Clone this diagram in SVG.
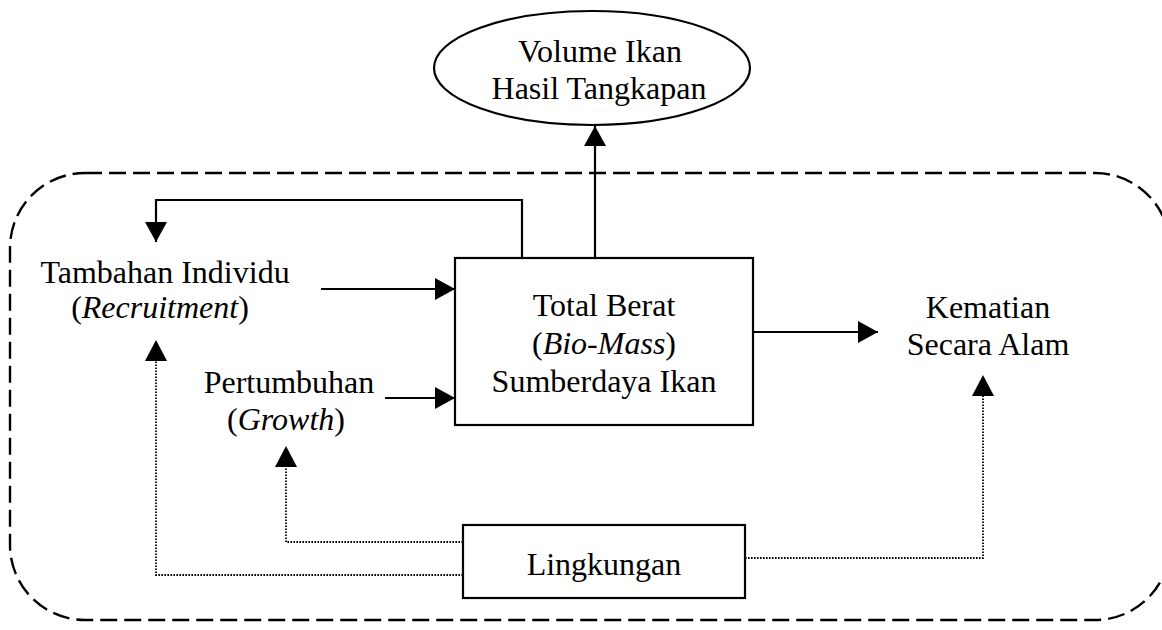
<svg xmlns="http://www.w3.org/2000/svg" width="1162" height="630" viewBox="0 0 1162 630">
<style>
  text { font-family: "Liberation Serif", "Times New Roman", serif; font-size: 32px; fill: #000; text-anchor: middle; }
  .it { font-style: italic; }
  .box { fill: #fff; stroke: #000; stroke-width: 2.2; }
  .solid { fill: none; stroke: #000; stroke-width: 2.2; }
  .dot { fill: none; stroke: #000; stroke-width: 1.8; stroke-dasharray: 1.6 1.4; }
  .border { fill: none; stroke: #000; stroke-width: 2.4; stroke-dasharray: 17 7; }
</style>
<defs>
  <marker id="ah" viewBox="0 0 20 22" refX="20" refY="11" markerWidth="20" markerHeight="22" markerUnits="userSpaceOnUse" orient="auto">
    <path d="M0,0 L20,11 L0,22 z" fill="#000"/>
  </marker>
</defs>
<rect id="boundary" class="border" x="10" y="173" width="1160" height="447" rx="75" ry="75"/>
<g id="connectors">
  <line class="solid" x1="595" y1="258" x2="595" y2="126" marker-end="url(#ah)"/>
  <polyline class="solid" points="522,258 522,200 156,200 156,242" marker-end="url(#ah)"/>
  <line class="solid" x1="321" y1="289" x2="455" y2="289" marker-end="url(#ah)"/>
  <line class="solid" x1="385" y1="398" x2="455" y2="398" marker-end="url(#ah)"/>
  <line class="solid" x1="753" y1="332" x2="878" y2="332" marker-end="url(#ah)"/>
  <polyline class="dot" points="463,575 156,575 156,360"/>
  <path d="M156,340 L145,361 L167,361 z" fill="#000"/>
  <polyline class="dot" points="463,542 286,542 286,466"/>
  <path d="M286,446 L275,467 L297,467 z" fill="#000"/>
  <polyline class="dot" points="745,558 983,558 983,395"/>
  <path d="M983,375 L972,396 L994,396 z" fill="#000"/>
</g>
<g id="node-volume">
  <ellipse cx="592" cy="68" rx="158" ry="57" class="box"/>
  <text x="600" y="62">Volume Ikan</text>
  <text x="599" y="99">Hasil Tangkapan</text>
</g>
<g id="node-tambahan">
  <text x="165" y="283">Tambahan Individu</text>
  <text x="160" y="318">(<tspan class="it">Recruitment</tspan>)</text>
</g>
<g id="node-pertumbuhan">
  <text x="289" y="393">Pertumbuhan</text>
  <text x="286" y="430">(<tspan class="it">Growth</tspan>)</text>
</g>
<g id="node-total">
  <rect class="box" x="455" y="258" width="298" height="167"/>
  <text x="604" y="316">Total Berat</text>
  <text x="604" y="354">(<tspan class="it">Bio-Mass</tspan>)</text>
  <text x="604" y="392">Sumberdaya Ikan</text>
</g>
<g id="node-kematian">
  <text x="988" y="318">Kematian</text>
  <text x="988" y="355">Secara Alam</text>
</g>
<g id="node-lingkungan">
  <rect class="box" x="463" y="525" width="282" height="73"/>
  <text x="604" y="575">Lingkungan</text>
</g>
</svg>
